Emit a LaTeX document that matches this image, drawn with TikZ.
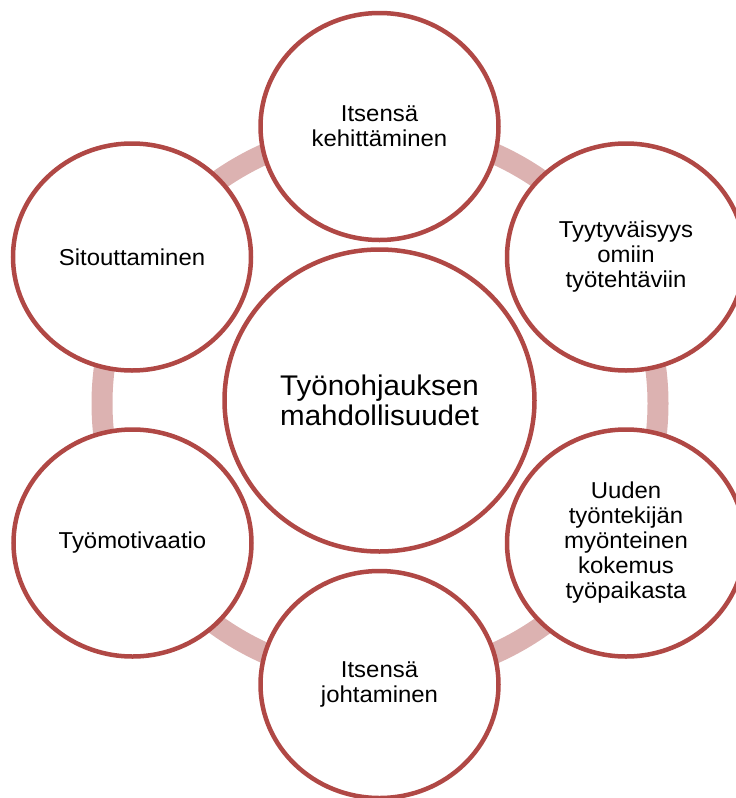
\documentclass[tikz,border=0pt]{standalone}
\usepackage{fontspec}
\setmainfont{Liberation Sans}[FakeStretch=1.04]
\usetikzlibrary{shapes.geometric}
\definecolor{rimred}{RGB}{176,72,69}
\definecolor{ringpink}{RGB}{220,178,177}
\tikzset{
  outerc/.style={ellipse, draw=rimred, line width=4.5pt, fill=white,
    minimum width=238pt, minimum height=227pt, inner sep=0pt, align=center,
    font=\fontsize{23pt}{25pt}\selectfont},
  centerc/.style={ellipse, draw=rimred, line width=4.5pt, fill=white,
    minimum width=310pt, minimum height=302pt, inner sep=0pt, align=center,
    font=\fontsize{28.4pt}{30.5pt}\selectfont},
  ringline/.style={draw=ringpink, line width=21pt}
}
\begin{document}
\begin{tikzpicture}[x=1pt,y=-1pt]
\useasboundingbox (0,0) rectangle (736,798);
\clip (0,0) rectangle (736,798);
\coordinate (ringc) at (380,403.5);
\draw[ringline] (ringc) ellipse [x radius=278, y radius=274];
\node[centerc] (C) at (379.5,400.5) {Työnohjauksen\\mahdollisuudet};
\node[outerc] (T) at (379.5,126.5) {Itsensä\\kehittäminen};
\node[outerc] (RU) at (626,257) {Tyytyväisyys\\omiin\\työtehtäviin};
\node[outerc] (RL) at (626,543) {Uuden\\työntekijän\\myönteinen\\kokemus\\työpaikasta};
\node[outerc] (B) at (379.5,684.5) {Itsensä\\johtaminen};
\node[outerc] (LL) at (132.5,543) {Työmotivaatio};
\node[outerc] (LU) at (132,257) {Sitouttaminen};
\end{tikzpicture}
\end{document}
